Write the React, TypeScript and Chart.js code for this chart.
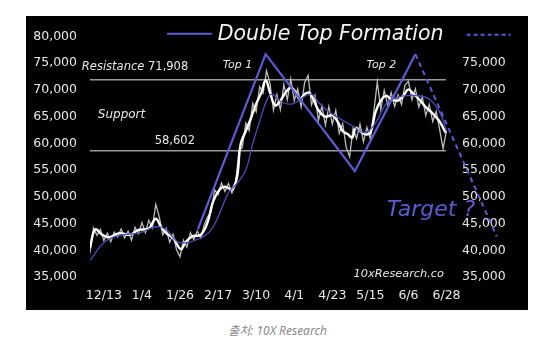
import React, { useEffect, useRef } from 'react';
import { Chart, registerables } from 'chart.js';

Chart.register(...registerables);

// ---- data (x = days since 12/13) ----
const X_TICK_DAYS = [0, 22, 44, 66, 88, 110, 132, 154, 176, 198];
const X_TICK_LABELS = ['12/13', '1/4', '1/26', '2/17', '3/10', '4/1', '4/23', '5/15', '6/6', '6/28'];

const PRICE_DAYS = [
  -8, -6, -4, -2, 0, 2, 4, 6, 8, 10, 12, 14, 16, 18, 20, 22, 24, 26, 28, 30,
  32, 34, 36, 38, 40, 42, 44, 46, 48, 50, 52, 54, 56, 58, 60, 62, 64, 66, 68, 70,
  72, 74, 76, 78, 80, 82, 84, 86, 88, 90, 92, 94, 96, 98, 100, 102, 104, 106, 108, 110,
  112, 114, 116, 118, 120, 122, 124, 126, 128, 130, 132, 134, 136, 138, 140, 142, 144, 146, 148, 150,
  152, 154, 156, 158, 160, 162, 164, 166, 168, 170, 172, 174, 176, 178, 180, 182, 184, 186, 188, 190,
  192, 194, 196, 198,
];
const PRICE_VALUES = [
  39500, 44200, 42800, 43900, 41800, 43200, 41600, 43400, 42500, 44000, 42300, 43600, 41900, 44300, 43100, 45200, 43300, 45600, 44200, 48600,
  46300, 42900, 44100, 41500, 43000, 40100, 38800, 41900, 40600, 43300, 42000, 43600, 42300, 44800, 46300, 47200, 51300, 50400, 52600, 51000,
  52500, 50700, 52200, 58500, 59300, 63800, 62400, 67500, 65900, 70600, 69400, 73600, 71200, 66200, 69100, 66300, 71000, 68200, 72100, 68000,
  70200, 66800, 71400, 72700, 67200, 69000, 64300, 67000, 63400, 66900, 63600, 66200, 61900, 63700, 59300, 57500, 62800, 60900, 63600, 60300,
  63000, 60800, 66000, 71500, 66400, 69900, 67200, 69500, 66900, 69100, 67300, 70900, 71600, 68200, 70200, 66800, 68700, 65200, 67300, 64100,
  66000, 62600, 59000, 62500,
];

const SMOOTH_DAYS = [
  -8, -5, -1, 3, 9, 15, 20, 26, 30, 33, 36, 40, 44.5, 47, 51, 56, 60, 63, 67, 70,
  74, 77, 79, 82, 85, 88, 91, 93.5, 96, 99, 102, 105, 108, 111, 113, 116, 118.5, 121, 124, 128,
  132, 135, 138, 141, 143.5, 145.5, 148, 151, 154, 157, 160, 163, 166, 170, 173, 176, 179, 182, 186, 190,
  194, 197.5,
];
const SMOOTH_VALUES = [
  40500, 43900, 42900, 42400, 43200, 42900, 43800, 44100, 45900, 44400, 43200, 42300, 40200, 41400, 42600, 42900, 45300, 49000, 51400, 51900,
  51400, 53800, 59800, 62300, 64700, 67400, 69500, 71800, 69500, 67100, 68000, 69500, 70400, 69500, 68300, 69200, 69500, 68300, 66200, 65000,
  65300, 64100, 62300, 61700, 61100, 62900, 62300, 61700, 62000, 65900, 68000, 68900, 68300, 68000, 68900, 70100, 69200, 68300, 66800, 65600,
  64100, 62000,
];

const MA_DAYS = [-8, 1, 11, 20, 30, 36, 42, 47, 56, 62, 67, 72, 77, 82, 86, 90, 94, 97, 103, 109, 115, 120, 124, 130, 136, 144, 151, 157, 163, 169, 174, 182, 188, 194, 198];
const MA_VALUES = [38100, 41700, 42900, 43200, 44400, 43900, 41700, 41400, 42300, 43800, 47000, 50800, 52500, 55000, 59900, 64100, 68000, 69200, 67700, 67400, 68600, 69200, 67700, 65900, 64700, 63200, 62000, 63800, 67400, 68600, 68900, 68900, 68300, 65900, 62300];

const PATTERN_DAYS = [54.3, 93.5, 145, 180];
const PATTERN_VALUES = [43900, 76700, 54800, 76700];
const TARGET_DAYS = [180, 227];
const TARGET_VALUES = [76700, 42600];

const RESISTANCE = 71908;
const SUPPORT = 58602;
const LEVEL_DAYS = [-8, 197.6];

const Y_MIN = 35000;
const Y_MAX = 80000;
const Y_STEP = 5000;

// ---- styles ----
const FONT = "'DejaVu Sans', sans-serif";
const BLUE = '#5b5cd4';
const MA_BLUE = '#4a4dbb';
const TEXT = '#e8e8e8';

const pts = (xs: number[], ys: number[]) => xs.map((x, i) => ({ x, y: ys[i] }));
const fmt = (v: number) => Number(v).toLocaleString('en-US');

const annotations = {
  id: 'annotations',
  afterDatasetsDraw(chart: any) {
    const { ctx } = chart;
    const sx = chart.scales.x;
    const sy = chart.scales.y;
    const X = (d: number) => sx.getPixelForValue(d);
    const Y = (v: number) => sy.getPixelForValue(v);
    ctx.save();
    ctx.textBaseline = 'middle';
    ctx.textAlign = 'left';

    // legend
    ctx.strokeStyle = BLUE;
    ctx.lineWidth = 2;
    ctx.beginPath();
    ctx.moveTo(X(36.4), Y(80500));
    ctx.lineTo(X(62.4), Y(80500));
    ctx.stroke();
    ctx.fillStyle = '#f4f4f4';
    ctx.font = `italic 20.5px ${FONT}`;
    ctx.fillText('Double Top Formation', X(65.8), Y(80350));
    ctx.setLineDash([4, 3]);
    ctx.beginPath();
    ctx.moveTo(X(209.6), Y(80350));
    ctx.lineTo(X(235), Y(80350));
    ctx.stroke();
    ctx.setLineDash([]);

    // labels
    ctx.fillStyle = TEXT;
    ctx.font = `italic 11.5px ${FONT}`;
    const rx = X(-12.7);
    ctx.fillText('Resistance', rx, Y(74200));
    const w = ctx.measureText('Resistance ').width;
    ctx.font = `11.5px ${FONT}`;
    ctx.fillText('71,908', rx + w, Y(74200));

    ctx.font = `italic 11px ${FONT}`;
    ctx.fillText('Top 1', X(68.7), Y(74560));
    ctx.fillText('Top 2', X(151.8), Y(74560));
    ctx.font = `italic 12px ${FONT}`;
    ctx.fillText('Support', X(-3.5), Y(65300));
    ctx.font = `11.5px ${FONT}`;
    ctx.fillText('58,602', X(29.4), Y(60410));
    ctx.font = `italic 11.3px ${FONT}`;
    ctx.fillText('10xResearch.co', X(144.3), Y(35560));

    ctx.fillStyle = BLUE;
    ctx.font = `italic 22px ${FONT}`;
    ctx.fillText('Target ?', X(163.4), Y(47530));
    ctx.restore();
  },
};

export default function App() {
  const ref = useRef<HTMLCanvasElement>(null);

  useEffect(() => {
    if (!ref.current) return;
    const tickFont = { family: FONT, size: 12.5 };
    const chart = new Chart(ref.current, {
      type: 'line',
      data: {
        datasets: [
          { label: 'pattern', data: pts(PATTERN_DAYS, PATTERN_VALUES), borderColor: BLUE, borderWidth: 2.2, pointRadius: 0, tension: 0, order: 0 },
          { label: 'target', data: pts(TARGET_DAYS, TARGET_VALUES), borderColor: BLUE, borderWidth: 2, borderDash: [5, 4], pointRadius: 0, tension: 0, clip: false, order: 1 } as any,
          { label: 'ma', data: pts(MA_DAYS, MA_VALUES), borderColor: MA_BLUE, borderWidth: 1.3, pointRadius: 0, tension: 0.4, order: 2 },
          { label: 'smooth', data: pts(SMOOTH_DAYS, SMOOTH_VALUES), borderColor: '#ffffff', borderWidth: 2.4, pointRadius: 0, tension: 0.4, order: 3 },
          { label: 'price', data: pts(PRICE_DAYS, PRICE_VALUES), borderColor: '#bcbcbc', borderWidth: 1.3, pointRadius: 0, tension: 0, order: 4 },
          { label: 'resistance', data: pts(LEVEL_DAYS, [RESISTANCE, RESISTANCE]), borderColor: '#9c9c9c', borderWidth: 1.5, pointRadius: 0, order: 5 },
          { label: 'support', data: pts(LEVEL_DAYS, [SUPPORT, SUPPORT]), borderColor: '#9c9c9c', borderWidth: 1.5, pointRadius: 0, order: 6 },
        ],
      },
      options: {
        animation: false,
        responsive: false,
        maintainAspectRatio: false,
        layout: { padding: { top: 13, left: 0, right: 0, bottom: 0 } },
        plugins: { legend: { display: false }, tooltip: { enabled: false }, title: { display: false } },
        scales: {
          x: {
            type: 'linear',
            min: -8,
            max: 200,
            grid: { display: false, drawTicks: false },
            border: { display: false },
            ticks: {
              autoSkip: false,
              maxRotation: 0,
              color: TEXT,
              font: tickFont,
              padding: 11,
              callback: (v: any) => {
                const i = X_TICK_DAYS.indexOf(Number(v));
                return i >= 0 ? X_TICK_LABELS[i] : '';
              },
            },
            afterBuildTicks: (s: any) => {
              s.ticks = X_TICK_DAYS.map((value) => ({ value }));
            },
            afterFit: (s: any) => {
              s.height = 33;
            },
          },
          y: {
            type: 'linear',
            position: 'left',
            min: Y_MIN,
            max: Y_MAX,
            grid: { display: false, drawTicks: false },
            border: { display: false },
            ticks: { stepSize: Y_STEP, color: TEXT, font: tickFont, padding: 13, callback: (v: any) => fmt(v) },
            afterFit: (s: any) => {
              s.width = 64;
            },
          },
          y2: {
            type: 'linear',
            position: 'right',
            min: Y_MIN,
            max: Y_MAX,
            grid: { display: false, drawTicks: false },
            border: { display: false },
            ticks: { stepSize: Y_STEP, color: TEXT, font: tickFont, padding: 12, callback: (v: any) => (Number(v) === Y_MAX ? '' : fmt(v)) },
            afterFit: (s: any) => {
              s.width = 78;
            },
          },
        },
      } as any,
      plugins: [annotations],
    });
    return () => chart.destroy();
  }, []);

  return (
    <div style={{ position: 'fixed', left: 0, top: 0, width: 548, height: 352, background: '#fff', overflow: 'hidden' }}>
      <div style={{ position: 'absolute', left: 26, top: 16, width: 502, height: 294, background: '#000' }}>
        <canvas ref={ref} width={502} height={294} style={{ width: 502, height: 294, display: 'block' }} />
      </div>
      <div
        style={{
          position: 'absolute',
          left: 0,
          top: 323,
          width: 555,
          textAlign: 'center',
          fontFamily: "'Noto Sans', 'Noto Sans CJK KR', sans-serif",
          fontStyle: 'italic',
          fontSize: 12,
          lineHeight: '16px',
          color: '#8a8a8a',
        }}
      >
        출처: 10X Research
      </div>
    </div>
  );
}
